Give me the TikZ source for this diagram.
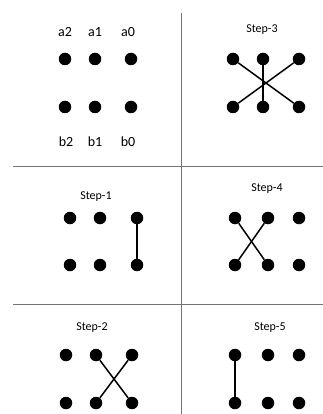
\documentclass[tikz,border=0pt]{standalone}
\usepackage{fontspec}
\setmainfont{Carlito}
\begin{document}
\begin{tikzpicture}[x=1pt, y=-1pt]
    % Style definitions for dots, labels and lines
    \tikzset{dot/.style={circle, fill=black, inner sep=0pt, minimum size=12.5pt},
             bitlabel/.style={font=\fontsize{14}{16}\selectfont},
             title/.style={font=\fontsize{12}{14}\selectfont}}
    \tikzstyle{link} = [line width=1.5pt]
    \tikzstyle{divider} = [draw=black!55, line width=0.8pt]

    \useasboundingbox (0,0) rectangle (323,414);

    % Dividing lines
    \coordinate (vtop) at (181,13);
    \coordinate (vbot) at (181,414);
    \coordinate (h1l) at (13,166);
    \coordinate (h1r) at (323,166);
    \coordinate (h2l) at (13,304);
    \coordinate (h2r) at (323,304);
    \draw [divider] (vtop) -- (vbot);
    \draw [divider] (h1l) -- (h1r);
    \draw [divider] (h2l) -- (h2r);

    % Start: bits with names
    \node (la2) [bitlabel] at (65,32) {a2};
    \node (la1) [bitlabel] at (95,32) {a1};
    \node (la0) [bitlabel] at (128,32) {a0};
    \node (a2) [dot] at (65,59) {};
    \node (a1) [dot] at (95,59) {};
    \node (a0) [dot] at (131,59) {};
    \node (b2) [dot] at (65,107) {};
    \node (b1) [dot] at (95,107) {};
    \node (b0) [dot] at (131,107) {};
    \node (lb2) [bitlabel] at (66,142) {b2};
    \node (lb1) [bitlabel] at (95,142) {b1};
    \node (lb0) [bitlabel] at (128,142) {b0};

    % Step-1
    \node (t1) [title] at (96,197) {Step-1};
    \node (s1a2) [dot] at (70,218) {};
    \node (s1a1) [dot] at (100,218) {};
    \node (s1a0) [dot] at (137,218) {};
    \node (s1b2) [dot] at (70,265) {};
    \node (s1b1) [dot] at (100,265) {};
    \node (s1b0) [dot] at (137,265) {};
    \draw [link] (s1a0) -- (s1b0);

    % Step-2
    \node (t2) [title] at (92,328) {Step-2};
    \node (s2a2) [dot] at (66,355) {};
    \node (s2a1) [dot] at (96,355) {};
    \node (s2a0) [dot] at (132,355) {};
    \node (s2b2) [dot] at (66,403) {};
    \node (s2b1) [dot] at (96,403) {};
    \node (s2b0) [dot] at (132,403) {};
    \draw [link] (s2a1) -- (s2b0);
    \draw [link] (s2a0) -- (s2b1);

    % Step-3
    \node (t3) [title] at (262,30) {Step-3};
    \node (s3a2) [dot] at (233,59) {};
    \node (s3a1) [dot] at (263,59) {};
    \node (s3a0) [dot] at (299,59) {};
    \node (s3b2) [dot] at (233,107) {};
    \node (s3b1) [dot] at (263,107) {};
    \node (s3b0) [dot] at (299,107) {};
    \draw [link] (s3a2) -- (s3b0);
    \draw [link] (s3a0) -- (s3b2);
    \draw [link] (s3a1) -- (s3b1);

    % Step-4
    \node (t4) [title] at (267,189) {Step-4};
    \node (s4a2) [dot] at (235,218) {};
    \node (s4a1) [dot] at (268,218) {};
    \node (s4a0) [dot] at (299,218) {};
    \node (s4b2) [dot] at (235,265) {};
    \node (s4b1) [dot] at (268,265) {};
    \node (s4b0) [dot] at (299,265) {};
    \draw [link] (s4a2) -- (s4b1);
    \draw [link] (s4a1) -- (s4b2);

    % Step-5
    \node (t5) [title] at (270,328) {Step-5};
    \node (s5a2) [dot] at (235,355) {};
    \node (s5a1) [dot] at (268,355) {};
    \node (s5a0) [dot] at (299,355) {};
    \node (s5b2) [dot] at (235,403) {};
    \node (s5b1) [dot] at (268,403) {};
    \node (s5b0) [dot] at (299,403) {};
    \draw [link] (s5a2) -- (s5b2);

\end{tikzpicture}
\end{document}
